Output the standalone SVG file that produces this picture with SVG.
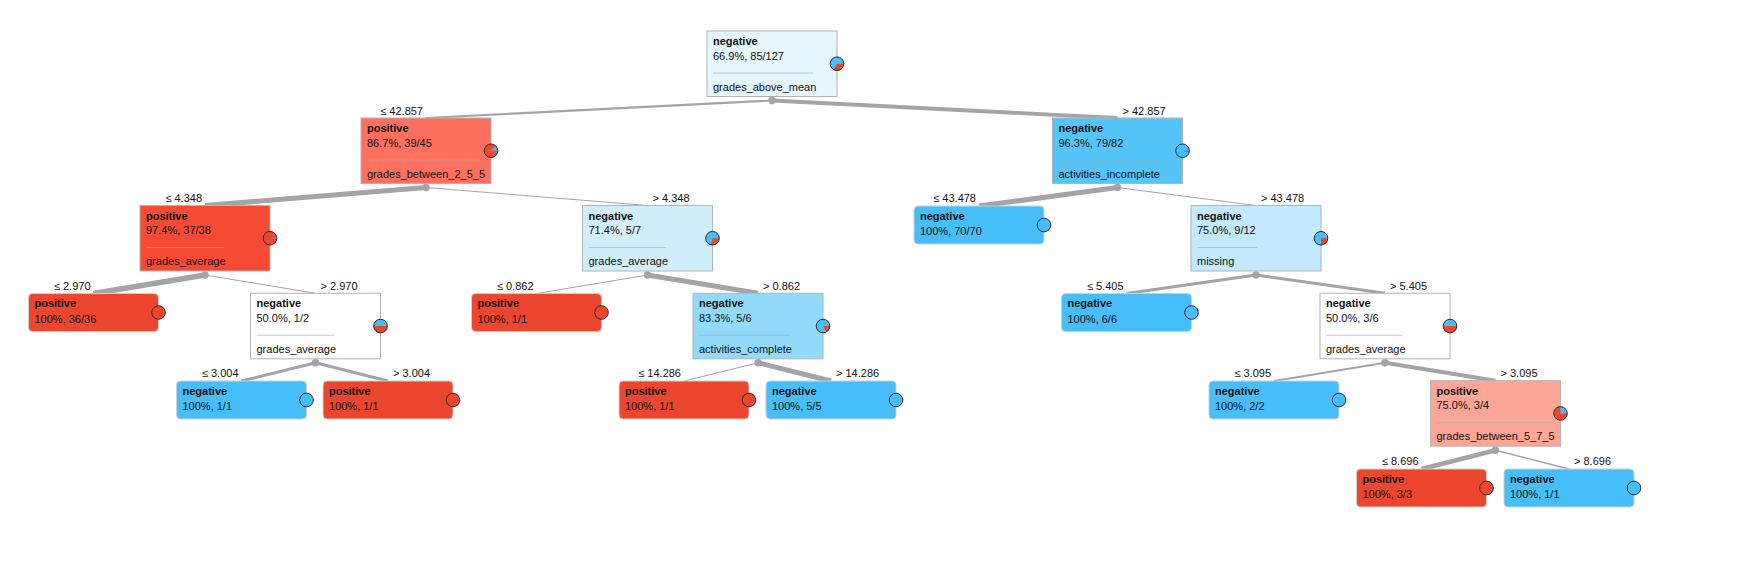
<svg xmlns="http://www.w3.org/2000/svg" width="1753" height="568" viewBox="0 0 1753 568">
<style>
text{font-family:"Liberation Sans",Arial,sans-serif;font-size:11px;fill:#111}
.b{font-weight:bold}
.n{stroke:#b4b4b4;stroke-width:1}
.lf{stroke:#cfcfcf;stroke-width:1}
.sep{stroke:#a8a8a8;stroke-opacity:0.6;stroke-width:1}
.pb{fill:#46BEFA}
.pr{fill:#ED462F}
.po{fill:none;stroke:#2b2b2b;stroke-width:1}
.e line{stroke:#a4a4a8;stroke-linecap:butt}
.dot{fill:#a4a4a8}
.lbl{font-size:11px}
</style>
<rect width="1753" height="568" fill="#fff"/>
<g id="connectors" class="e">
<line x1="772" y1="100.5" x2="426" y2="118" stroke-width="2.2"/>
<line x1="772" y1="100.5" x2="1117.5" y2="118" stroke-width="3.9"/>
<line x1="426" y1="187.5" x2="205" y2="205.5" stroke-width="5.1"/>
<line x1="426" y1="187.5" x2="647.5" y2="205.5" stroke-width="1"/>
<line x1="1117.5" y1="187.5" x2="979" y2="206" stroke-width="5.1"/>
<line x1="1117.5" y1="187.5" x2="1256" y2="205.5" stroke-width="1"/>
<line x1="205" y1="275" x2="93.5" y2="293.5" stroke-width="5.7"/>
<line x1="205" y1="275" x2="315.5" y2="293.3" stroke-width="1"/>
<line x1="647.5" y1="275" x2="536.5" y2="293.5" stroke-width="1"/>
<line x1="647.5" y1="275" x2="758" y2="293.3" stroke-width="5.1"/>
<line x1="1256" y1="275" x2="1126.5" y2="293.5" stroke-width="3"/>
<line x1="1256" y1="275" x2="1385" y2="293.3" stroke-width="3"/>
<line x1="315.5" y1="362.8" x2="241.5" y2="381" stroke-width="3"/>
<line x1="315.5" y1="362.8" x2="388" y2="381" stroke-width="3"/>
<line x1="758" y1="362.8" x2="684" y2="381" stroke-width="1"/>
<line x1="758" y1="362.8" x2="831" y2="381" stroke-width="5"/>
<line x1="1385" y1="362.8" x2="1274" y2="381" stroke-width="2"/>
<line x1="1385" y1="362.8" x2="1495.5" y2="380.7" stroke-width="4"/>
<line x1="1495.5" y1="450.2" x2="1421.5" y2="469" stroke-width="4.5"/>
<line x1="1495.5" y1="450.2" x2="1569" y2="469" stroke-width="1.5"/>
<g class="labels">
<text class="lbl" x="423" y="114.5" text-anchor="end">≤ 42.857</text>
<text class="lbl" x="1122.5" y="114.5">&gt; 42.857</text>
<text class="lbl" x="202" y="202" text-anchor="end">≤ 4.348</text>
<text class="lbl" x="652.5" y="202">&gt; 4.348</text>
<text class="lbl" x="976" y="202" text-anchor="end">≤ 43.478</text>
<text class="lbl" x="1261" y="202">&gt; 43.478</text>
<text class="lbl" x="90.5" y="289.5" text-anchor="end">≤ 2.970</text>
<text class="lbl" x="320.5" y="289.5">&gt; 2.970</text>
<text class="lbl" x="533.5" y="289.5" text-anchor="end">≤ 0.862</text>
<text class="lbl" x="763" y="289.5">&gt; 0.862</text>
<text class="lbl" x="1123.5" y="289.5" text-anchor="end">≤ 5.405</text>
<text class="lbl" x="1390" y="289.5">&gt; 5.405</text>
<text class="lbl" x="238.5" y="377" text-anchor="end">≤ 3.004</text>
<text class="lbl" x="393" y="377">&gt; 3.004</text>
<text class="lbl" x="681" y="377" text-anchor="end">≤ 14.286</text>
<text class="lbl" x="836" y="377">&gt; 14.286</text>
<text class="lbl" x="1271" y="377" text-anchor="end">≤ 3.095</text>
<text class="lbl" x="1500.5" y="377">&gt; 3.095</text>
<text class="lbl" x="1418.5" y="465" text-anchor="end">≤ 8.696</text>
<text class="lbl" x="1574" y="465">&gt; 8.696</text>
</g>
</g>

<g id="n_root">
<rect class="n" x="707" y="31" width="130" height="65.5" fill="#E6F6FE"/>
<text class="b" x="713" y="45">negative</text>
<text x="713" y="59.5">66.9%, 85/127</text>
<line class="sep" x1="713" y1="73" x2="813" y2="73"/>
<text x="713" y="90.5">grades_above_mean</text>
<circle class="pb" cx="837" cy="63.75" r="6.8"/>
<path class="pr" d="M837,63.75 L843.8,63.75 A6.8,6.8 0 0 1 833.69,69.69 Z"/>
<circle class="po" cx="837" cy="63.75" r="6.8"/>
<circle class="dot" cx="772" cy="100.5" r="3.7"/>
</g>

<g id="n_pos86">
<rect class="n" x="361" y="118" width="130" height="65.5" fill="#FD705E"/>
<text class="b" x="367" y="132">positive</text>
<text x="367" y="146.5">86.7%, 39/45</text>
<line class="sep" x1="367" y1="160" x2="482" y2="160"/>
<text x="367" y="177.5">grades_between_2_5_5</text>
<circle class="pr" cx="491" cy="150.75" r="6.8"/>
<path class="pb" d="M491,150.75 L497.8,150.75 A6.8,6.8 0 0 0 495.55,145.7 Z"/>
<circle class="po" cx="491" cy="150.75" r="6.8"/>
<circle class="dot" cx="426" cy="187.5" r="3.7"/>
</g>

<g id="n_neg96">
<rect class="n" x="1052.5" y="118" width="130" height="65.5" fill="#55C4F9"/>
<text class="b" x="1058.5" y="132">negative</text>
<text x="1058.5" y="146.5">96.3%, 79/82</text>
<line class="sep" x1="1058.5" y1="160" x2="1158.5" y2="160"/>
<text x="1058.5" y="177.5">activities_incomplete</text>
<circle class="pb" cx="1182.5" cy="150.75" r="6.8"/>
<path class="pr" d="M1182.5,150.75 L1189.3,150.75 A6.8,6.8 0 0 1 1189.12,152.3 Z"/>
<circle class="po" cx="1182.5" cy="150.75" r="6.8"/>
<circle class="dot" cx="1117.5" cy="187.5" r="3.7"/>
</g>

<g id="n_pos97">
<rect class="n" x="140" y="205.5" width="130" height="65.5" fill="#F54B34"/>
<text class="b" x="146" y="219.5">positive</text>
<text x="146" y="234">97.4%, 37/38</text>
<line class="sep" x1="146" y1="247.5" x2="224" y2="247.5"/>
<text x="146" y="265">grades_average</text>
<circle class="pr" cx="270" cy="238.25" r="6.8"/>
<path class="pb" d="M270,238.25 L276.8,238.25 A6.8,6.8 0 0 0 276.71,237.13 Z"/>
<circle class="po" cx="270" cy="238.25" r="6.8"/>
<circle class="dot" cx="205" cy="275" r="3.7"/>
</g>

<g id="n_neg71">
<rect class="n" x="582.5" y="205.5" width="130" height="65.5" fill="#D1EEFD"/>
<text class="b" x="588.5" y="219.5">negative</text>
<text x="588.5" y="234">71.4%, 5/7</text>
<line class="sep" x1="588.5" y1="247.5" x2="666" y2="247.5"/>
<text x="588.5" y="265">grades_average</text>
<circle class="pb" cx="712.5" cy="238.25" r="6.8"/>
<path class="pr" d="M712.5,238.25 L719.3,238.25 A6.8,6.8 0 0 1 710.99,244.88 Z"/>
<circle class="po" cx="712.5" cy="238.25" r="6.8"/>
<circle class="dot" cx="647.5" cy="275" r="3.7"/>
</g>

<g id="n_leaf70">
<rect class="lf" x="914" y="206" width="130" height="38" rx="4" fill="#46BEFA"/>
<text class="b" x="920" y="219.5">negative</text>
<text x="920" y="235">100%, 70/70</text>
<circle class="pb" cx="1044" cy="225" r="6.8"/>
<circle class="po" cx="1044" cy="225" r="6.8"/>
</g>

<g id="n_neg75">
<rect class="n" x="1191" y="205.5" width="130" height="65.5" fill="#C3E9FC"/>
<text class="b" x="1197" y="219.5">negative</text>
<text x="1197" y="234">75.0%, 9/12</text>
<line class="sep" x1="1197" y1="247.5" x2="1257" y2="247.5"/>
<text x="1197" y="265">missing</text>
<circle class="pb" cx="1321" cy="238.25" r="6.8"/>
<path class="pr" d="M1321,238.25 L1327.8,238.25 A6.8,6.8 0 0 1 1321,245.05 Z"/>
<circle class="po" cx="1321" cy="238.25" r="6.8"/>
<circle class="dot" cx="1256" cy="275" r="3.7"/>
</g>

<g id="n_leaf36">
<rect class="lf" x="28.5" y="293.5" width="130" height="38" rx="4" fill="#ED462F"/>
<text class="b" x="34.5" y="307">positive</text>
<text x="34.5" y="322.5">100%, 36/36</text>
<circle class="pr" cx="158.5" cy="312.5" r="6.8"/>
<circle class="po" cx="158.5" cy="312.5" r="6.8"/>
</g>

<g id="n_neg50a">
<rect class="n" x="250.5" y="293.3" width="130" height="65.5" fill="#FFFFFF"/>
<text class="b" x="256.5" y="307.3">negative</text>
<text x="256.5" y="321.8">50.0%, 1/2</text>
<line class="sep" x1="256.5" y1="335.3" x2="334" y2="335.3"/>
<text x="256.5" y="352.8">grades_average</text>
<circle class="pb" cx="380.5" cy="326.05" r="6.8"/>
<path class="pr" d="M380.5,326.05 L387.3,326.05 A6.8,6.8 0 0 1 373.7,326.05 Z"/>
<circle class="po" cx="380.5" cy="326.05" r="6.8"/>
<circle class="dot" cx="315.5" cy="362.8" r="3.7"/>
</g>

<g id="n_leafP0862">
<rect class="lf" x="471.5" y="293.5" width="130" height="38" rx="4" fill="#ED462F"/>
<text class="b" x="477.5" y="307">positive</text>
<text x="477.5" y="322.5">100%, 1/1</text>
<circle class="pr" cx="601.5" cy="312.5" r="6.8"/>
<circle class="po" cx="601.5" cy="312.5" r="6.8"/>
</g>

<g id="n_neg83">
<rect class="n" x="693" y="293.3" width="130" height="65.5" fill="#93D9FC"/>
<text class="b" x="699" y="307.3">negative</text>
<text x="699" y="321.8">83.3%, 5/6</text>
<line class="sep" x1="699" y1="335.3" x2="790" y2="335.3"/>
<text x="699" y="352.8">activities_complete</text>
<circle class="pb" cx="823" cy="326.05" r="6.8"/>
<path class="pr" d="M823,326.05 L829.8,326.05 A6.8,6.8 0 0 1 826.4,331.94 Z"/>
<circle class="po" cx="823" cy="326.05" r="6.8"/>
<circle class="dot" cx="758" cy="362.8" r="3.7"/>
</g>

<g id="n_leaf66">
<rect class="lf" x="1061.5" y="293.5" width="130" height="38" rx="4" fill="#46BEFA"/>
<text class="b" x="1067.5" y="307">negative</text>
<text x="1067.5" y="322.5">100%, 6/6</text>
<circle class="pb" cx="1191.5" cy="312.5" r="6.8"/>
<circle class="po" cx="1191.5" cy="312.5" r="6.8"/>
</g>

<g id="n_neg50b">
<rect class="n" x="1320" y="293.3" width="130" height="65.5" fill="#FFFFFF"/>
<text class="b" x="1326" y="307.3">negative</text>
<text x="1326" y="321.8">50.0%, 3/6</text>
<line class="sep" x1="1326" y1="335.3" x2="1403" y2="335.3"/>
<text x="1326" y="352.8">grades_average</text>
<circle class="pb" cx="1450" cy="326.05" r="6.8"/>
<path class="pr" d="M1450,326.05 L1456.8,326.05 A6.8,6.8 0 0 1 1443.2,326.05 Z"/>
<circle class="po" cx="1450" cy="326.05" r="6.8"/>
<circle class="dot" cx="1385" cy="362.8" r="3.7"/>
</g>

<g id="n_leafN3004">
<rect class="lf" x="176.5" y="381" width="130" height="38" rx="4" fill="#46BEFA"/>
<text class="b" x="182.5" y="394.5">negative</text>
<text x="182.5" y="410">100%, 1/1</text>
<circle class="pb" cx="306.5" cy="400" r="6.8"/>
<circle class="po" cx="306.5" cy="400" r="6.8"/>
</g>

<g id="n_leafP3004">
<rect class="lf" x="323" y="381" width="130" height="38" rx="4" fill="#ED462F"/>
<text class="b" x="329" y="394.5">positive</text>
<text x="329" y="410">100%, 1/1</text>
<circle class="pr" cx="453" cy="400" r="6.8"/>
<circle class="po" cx="453" cy="400" r="6.8"/>
</g>

<g id="n_leafP14">
<rect class="lf" x="619" y="381" width="130" height="38" rx="4" fill="#ED462F"/>
<text class="b" x="625" y="394.5">positive</text>
<text x="625" y="410">100%, 1/1</text>
<circle class="pr" cx="749" cy="400" r="6.8"/>
<circle class="po" cx="749" cy="400" r="6.8"/>
</g>

<g id="n_leafN55">
<rect class="lf" x="766" y="381" width="130" height="38" rx="4" fill="#46BEFA"/>
<text class="b" x="772" y="394.5">negative</text>
<text x="772" y="410">100%, 5/5</text>
<circle class="pb" cx="896" cy="400" r="6.8"/>
<circle class="po" cx="896" cy="400" r="6.8"/>
</g>

<g id="n_leafN22">
<rect class="lf" x="1209" y="381" width="130" height="38" rx="4" fill="#46BEFA"/>
<text class="b" x="1215" y="394.5">negative</text>
<text x="1215" y="410">100%, 2/2</text>
<circle class="pb" cx="1339" cy="400" r="6.8"/>
<circle class="po" cx="1339" cy="400" r="6.8"/>
</g>

<g id="n_pos75">
<rect class="n" x="1430.5" y="380.7" width="130" height="65.5" fill="#FDA596"/>
<text class="b" x="1436.5" y="394.7">positive</text>
<text x="1436.5" y="409.2">75.0%, 3/4</text>
<line class="sep" x1="1436.5" y1="422.7" x2="1551.5" y2="422.7"/>
<text x="1436.5" y="440.2">grades_between_5_7_5</text>
<circle class="pr" cx="1560.5" cy="413.45" r="6.8"/>
<path class="pb" d="M1560.5,413.45 L1567.3,413.45 A6.8,6.8 0 0 0 1560.5,406.65 Z"/>
<circle class="po" cx="1560.5" cy="413.45" r="6.8"/>
<circle class="dot" cx="1495.5" cy="450.2" r="3.7"/>
</g>

<g id="n_leafP33">
<rect class="lf" x="1356.5" y="469" width="130" height="38" rx="4" fill="#ED462F"/>
<text class="b" x="1362.5" y="482.5">positive</text>
<text x="1362.5" y="498">100%, 3/3</text>
<circle class="pr" cx="1486.5" cy="488" r="6.8"/>
<circle class="po" cx="1486.5" cy="488" r="6.8"/>
</g>

<g id="n_leafN11">
<rect class="lf" x="1504" y="469" width="130" height="38" rx="4" fill="#46BEFA"/>
<text class="b" x="1510" y="482.5">negative</text>
<text x="1510" y="498">100%, 1/1</text>
<circle class="pb" cx="1634" cy="488" r="6.8"/>
<circle class="po" cx="1634" cy="488" r="6.8"/>
</g>
</svg>
